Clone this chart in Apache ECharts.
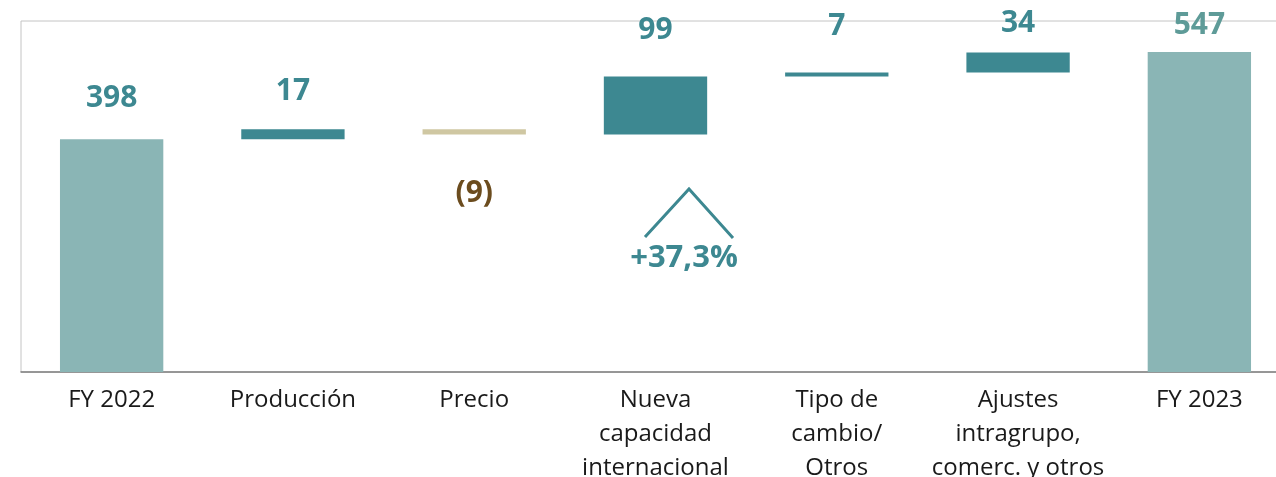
<!DOCTYPE html>
<html lang="es">
<head>
    <meta charset="UTF-8">
    <title>Puente FY 2022 - FY 2023</title>
    <style>
        html, body { margin: 0; padding: 0; background: #fff; }
    </style>
</head>
<body>
    <div id="echartsDiv" style="width: 1276px;height:477px;"></div>
</body>
<script type="text/javascript" src="https://cdn.jsdelivr.net/npm/echarts@6/dist/echarts.min.js"></script>
<script type="text/javascript">
    // datos del puente
    var categories = ['FY 2022', 'Producción', 'Precio', 'Nueva\ncapacidad\ninternacional',
        'Tipo de\ncambio/\nOtros', 'Ajustes\nintragrupo,\ncomerc. y otros', 'FY 2023'];
    var startValue = 398;
    var deltas = [17, -9, 99, 7, 34];
    var endValue = 547;
    var valueLabels = ['398', '17', '(9)', '99', '7', '34', '547'];
    var labelGaps = [26, 23, 44, 31, 31, 14, 12];

    var cTotal = '#8ab5b5';
    var cUp = '#3d8891';
    var cDown = '#cfc7a2';

    // base invisible + barra visible
    var baseData = [0];
    var barData = [{ value: startValue, itemStyle: { color: cTotal } }];
    var running = startValue;
    deltas.forEach(function (d) {
        var lo = d >= 0 ? running : running + d;
        baseData.push(lo);
        barData.push({ value: Math.abs(d), itemStyle: { color: d >= 0 ? cUp : cDown } });
        running += d;
    });
    baseData.push(0);
    barData.push({ value: endValue, itemStyle: { color: cTotal } });

    barData.forEach(function (item, i) {
        var neg = i > 0 && i <= deltas.length && deltas[i - 1] < 0;
        item.label = {
            show: true,
            position: neg ? 'bottom' : 'top',
            distance: labelGaps[i],
            formatter: valueLabels[i],
            color: neg ? '#6b4c1e' : (i === barData.length - 1 ? '#5e9b98' : '#3d8891')
        };
    });

    var myChart = echarts.init(document.getElementById('echartsDiv'));

    var option = {
        animation: false,
        grid: {
            left: 21,
            top: 21,
            width: 1269,
            height: 351,
            outerBoundsMode: 'none',
            containLabel: false,
            show: true,
            borderColor: '#c4c4c4',
            borderWidth: 1
        },
        xAxis: {
            type: 'category',
            data: categories,
            axisLine: { lineStyle: { color: '#7f7f7f', width: 1.5 } },
            axisTick: { show: false },
            axisLabel: {
                interval: 0,
                margin: 11,
                fontFamily: 'Open Sans',
                fontSize: 24,
                lineHeight: 34,
                color: '#1a1a1a'
            }
        },
        yAxis: {
            type: 'value',
            min: 0,
            max: 600,
            show: false,
            splitLine: { show: false }
        },
        series: [
            {
                type: 'bar',
                stack: 'puente',
                data: baseData,
                itemStyle: { color: 'transparent' },
                barWidth: '57%',
                silent: true
            },
            {
                type: 'bar',
                stack: 'puente',
                data: barData,
                barWidth: '57%',
                label: {
                    fontFamily: 'Open Sans',
                    fontWeight: 'bold',
                    fontSize: 30
                }
            }
        ],
        graphic: [
            {
                type: 'polyline',
                shape: { points: [[645, 237], [689, 189], [733, 238]] },
                style: { stroke: '#3d8891', lineWidth: 3, fill: null }
            },
            {
                type: 'text',
                x: 684,
                y: 258,
                style: {
                    text: '+37,3%',
                    fill: '#3d8891',
                    font: 'bold 31px "Open Sans"',
                    align: 'center',
                    verticalAlign: 'middle'
                }
            }
        ]
    };

    myChart.setOption(option);
</script>
</html>
